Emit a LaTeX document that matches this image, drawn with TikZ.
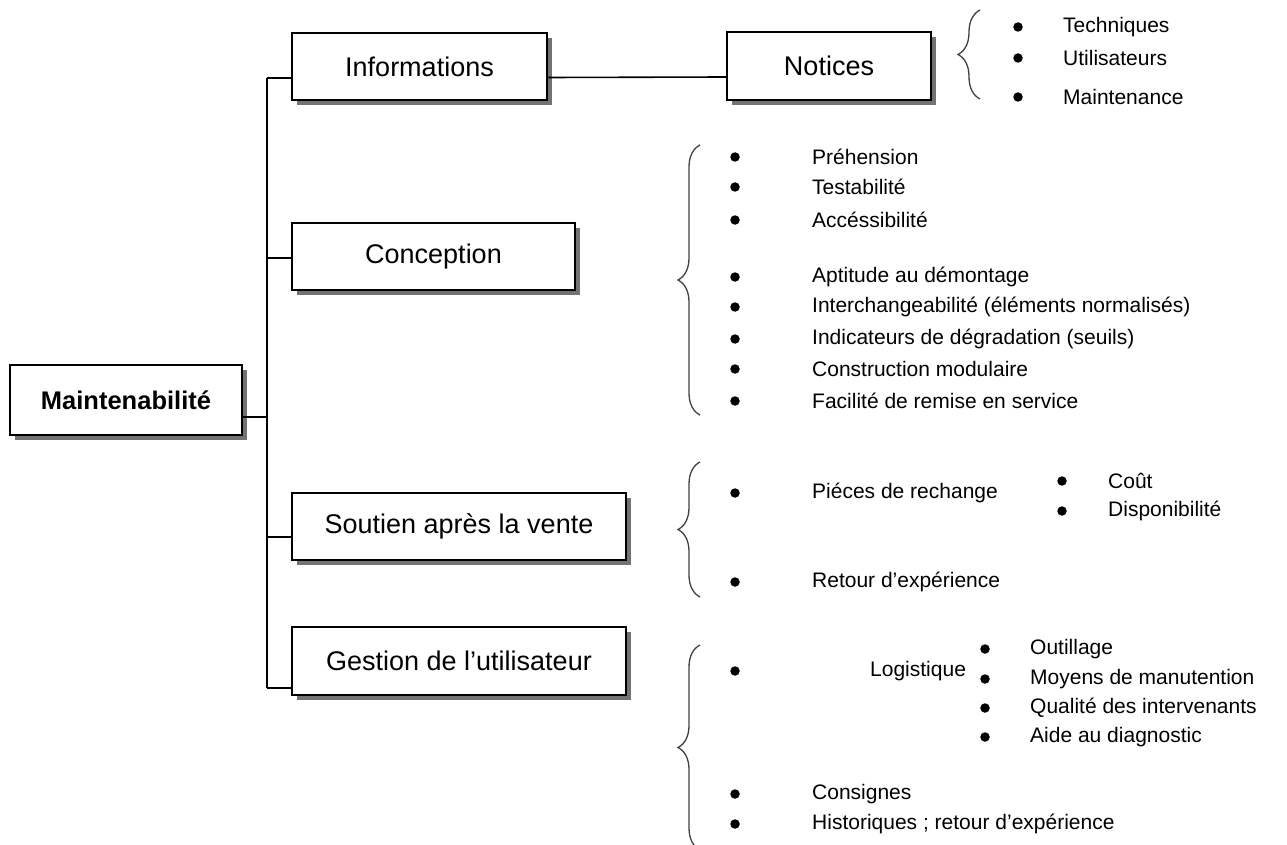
\documentclass[tikz,border=0pt]{standalone}
\usepackage{fontspec}
\setmainfont{Liberation Sans}
\usetikzlibrary{shadows,calc,decorations.pathreplacing}
\begin{document}
\begin{tikzpicture}[x=1pt,y=-1pt,
  box/.style={draw=black,line width=2pt,fill=white,inner sep=0pt,
    drop shadow={shadow xshift=5pt,shadow yshift=-5pt,fill=black!55,opacity=1},
    font=\fontsize{27}{30}\selectfont},
  link/.style={line width=1.6pt,black},
  brc/.style={decorate,decoration={brace,amplitude=22pt,aspect=0.5},line width=1.3pt,black!75},
  item/.style={anchor=west,inner sep=0pt,font=\fontsize{21}{24}\selectfont},
  dot/.style={circle,fill=black,inner sep=0pt,minimum size=9.5pt}]
\useasboundingbox (0,0) rectangle (1287,845);
% boxes
\node[box,minimum width=232pt,minimum height=70pt,font=\fontsize{25.5}{28}\selectfont\bfseries] (M) at (126,400) {Maintenabilité};
\node[box,minimum width=255pt,minimum height=67pt] (info) at (419.5,66.5) {Informations};
\node[box,minimum width=204pt,minimum height=68pt] (not) at (829,66) {Notices};
\node[box,minimum width=283pt,minimum height=67pt] (conc) at (433.5,256.5) {Conception};
\node[box,minimum width=334pt,minimum height=67pt] (sout) at (459,526) {Soutien après la vente};
\node[box,minimum width=334pt,minimum height=68pt] (gest) at (459,661) {Gestion de l’utilisateur};
% trunk
\coordinate (ttop) at (267,78);
\coordinate (tbot) at (267,688);
\coordinate (tm) at (267,417);
\draw[link] (ttop) -- (tbot);
\draw[link] ($(M.east)+(0,17)$) -- (tm);
\draw[link] ($(info.west)+(0,11.5)$) -- (ttop);
\draw[link] ($(conc.west)+(0,1.5)$) -- ($(conc.west -| ttop)+(0,1.5)$);
\draw[link] ($(sout.west)+(0,11)$) -- ($(sout.west -| ttop)+(0,11)$);
\draw[link] ($(gest.west)+(0,27)$) -- (tbot);
\draw[link] ($(info.east)+(0,11)$) -- ($(not.west)+(0,11)$);
% braces
\coordinate (b1a) at (980,99); \coordinate (b1b) at (980,10);
\draw[brc] (b1a) -- (b1b);
\coordinate (b2a) at (700,415); \coordinate (b2b) at (700,145);
\draw[brc] (b2a) -- (b2b);
\coordinate (b3a) at (700,597); \coordinate (b3b) at (700,462);
\draw[brc] (b3a) -- (b3b);
\coordinate (b4a) at (700,850); \coordinate (b4b) at (700,645);
\draw[brc] (b4a) -- (b4b);
% Notices list
\node[dot] (d1) at (1018,27) {}; \node[item] (t1) at (1063,27) {Techniques};
\node[dot] (d2) at (1018,58) {}; \node[item] (t2) at (1063,58) {Utilisateurs};
\node[dot] (d3) at (1018,97) {}; \node[item] (t3) at (1063,97) {Maintenance};
% Conception list
\node[dot] (c1) at (735,157) {}; \node[item] (ct1) at (812,157) {Préhension};
\node[dot] (c2) at (735,187) {}; \node[item] (ct2) at (812,187) {Testabilité};
\node[dot] (c3) at (735,220) {}; \node[item] (ct3) at (812,220) {Accéssibilité};
\node[dot] (c4) at (735,277) {}; \node[item] (ct4) at (812,277) {Aptitude au démontage};
\node[dot] (c5) at (735,307) {}; \node[item] (ct5) at (812,307) {Interchangeabilité (éléments normalisés)};
\node[dot] (c6) at (735,339) {}; \node[item] (ct6) at (812,339) {Indicateurs de dégradation (seuils)};
\node[dot] (c7) at (735,369) {}; \node[item] (ct7) at (812,369) {Construction modulaire};
\node[dot] (c8) at (735,401) {}; \node[item] (ct8) at (812,401) {Facilité de remise en service};
% Soutien list
\node[dot] (s1) at (735,493) {}; \node[item] (st1) at (812,493) {Piéces de rechange};
\node[dot] (s2) at (1062,481) {}; \node[item] (st2) at (1108,481) {Coût};
\node[dot] (s3) at (1062,511) {}; \node[item] (st3) at (1108,511) {Disponibilité};
\node[dot] (s4) at (735,582) {}; \node[item] (st4) at (812,582) {Retour d’expérience};
% Gestion list
\node[dot] (g1) at (735,671) {}; \node[item] (gt1) at (870,671) {Logistique};
\node[dot] (g2) at (985,649) {}; \node[item] (gt2) at (1030,649) {Outillage};
\node[dot] (g3) at (985,679) {}; \node[item] (gt3) at (1030,679) {Moyens de manutention};
\node[dot] (g4) at (985,708) {}; \node[item] (gt4) at (1030,708) {Qualité des intervenants};
\node[dot] (g5) at (985,737) {}; \node[item] (gt5) at (1030,737) {Aide au diagnostic};
\node[dot] (g6) at (735,794) {}; \node[item] (gt6) at (812,794) {Consignes};
\node[dot] (g7) at (735,824) {}; \node[item] (gt7) at (812,824) {Historiques ; retour d’expérience};
\end{tikzpicture}
\end{document}
